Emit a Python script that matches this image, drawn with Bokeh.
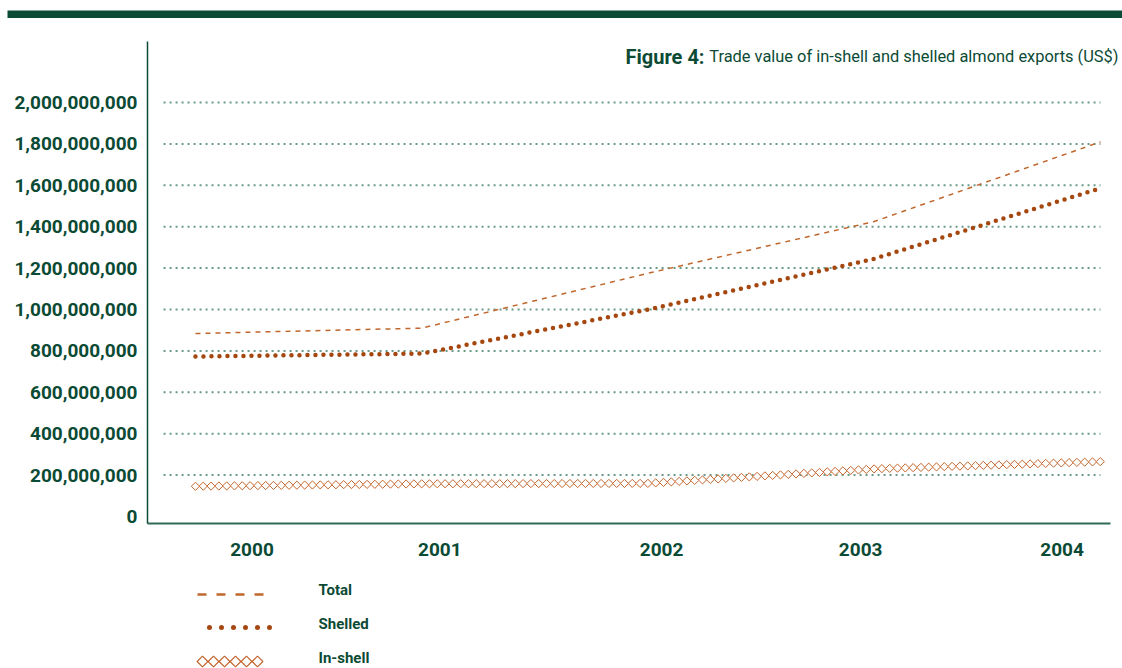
import numpy as np
from bokeh.plotting import figure
from bokeh.models import FixedTicker, NumeralTickFormatter, Range1d, Label
from bokeh.layouts import column
from bokeh.embed import file_html
from bokeh.resources import INLINE
from bokeh.core.properties import value

# ---------------- data ----------------
years = ["2000", "2001", "2002", "2003", "2004"]
total = [884e6, 910e6, 1175e6, 1425e6, 1810e6]
shelled = [773e6, 787e6, 1000e6, 1245e6, 1586e6]
inshell = [146e6, 158e6, 160e6, 230e6, 265e6]
y_ticks = [0, 200e6, 400e6, 600e6, 800e6, 1000e6, 1200e6, 1400e6, 1600e6, 1800e6, 2000e6]
legend_labels = ["Total", "Shelled", "In-shell"]
title_bold = "Figure 4:"
title_text = "Trade value of in-shell and shelled almond exports (US$)"

# ---------------- styles ----------------
GREEN = "#0b4a34"
GRID = "#6a9a88"
C_TOTAL = "#c0672c"
C_SHELLED = "#a5470f"
C_INSHELL = "#c4652c"
LABEL_FONT = "Roboto"

x_pos = list(range(len(years)))
year_label_pos = [0.25, 1.08, 2.06, 2.94, 3.83]
X_START, X_AXIS_END, X_END = -0.212, 4.044, 4.0972

# ---------------- top band ----------------
band = figure(width=1122, height=18, x_range=Range1d(0, 1122),
              y_range=Range1d(18, 0), output_backend="svg",
              toolbar_location=None, min_border=0)
band.frame_align = False
band.axis.visible = False
band.grid.visible = False
band.outline_line_color = None
band.quad(left=[7], right=[1122], top=[10], bottom=[17.5],
          fill_color=GREEN, line_color=None)

# ---------------- main chart ----------------
p = figure(width=1122, height=552,
           x_range=Range1d(X_START, X_END),
           y_range=Range1d(-3.38e7, 2.2947e9),
           output_backend="svg", toolbar_location=None,
           min_border_left=147, min_border_right=0,
           min_border_top=23, min_border_bottom=47)
p.frame_align = False
p.outline_line_color = None
p.grid.visible = False

# y axis
ya = p.yaxis[0]
ya.ticker = FixedTicker(ticks=y_ticks)
ya.formatter = NumeralTickFormatter(format="0,0")
ya.axis_line_color = GREEN
ya.axis_line_width = 1.5
ya.major_tick_line_color = None
ya.minor_tick_line_color = None
ya.major_tick_out = 0
ya.major_tick_in = 0
ya.major_label_standoff = 10
ya.major_label_text_font = LABEL_FONT
ya.major_label_text_font_size = "19px"
ya.major_label_text_font_style = "bold"
ya.major_label_text_color = GREEN

# x axis
xa = p.xaxis[0]
xa.ticker = FixedTicker(ticks=year_label_pos)
xa.major_label_overrides = {pos: yr for pos, yr in zip(year_label_pos, years)}
xa.bounds = (X_START, X_AXIS_END)
xa.axis_line_color = "#2f6b55"
xa.axis_line_width = 2
xa.major_tick_line_color = None
xa.minor_tick_line_color = None
xa.major_tick_out = 0
xa.major_tick_in = 0
xa.major_label_standoff = 19
xa.major_label_text_font = LABEL_FONT
xa.major_label_text_font_size = "19px"
xa.major_label_text_font_style = "bold"
xa.major_label_text_color = GREEN

# dotted gridlines (from tick values, excluding 0)
grid_vals = y_ticks[1:]
p.segment(x0=-0.141, x1=4.0, y0=grid_vals, y1=grid_vals,
          line_color=GRID, line_width=2, line_dash="2 4")

# series
p.line(x_pos, total, line_color=C_TOTAL, line_width=1.5, line_dash="5 5")
p.line(x_pos, shelled, line_color=C_SHELLED, line_width=4.5,
       line_dash="0 8", line_cap="round")
# in-shell drawn as a chain of diamonds along its line (line style)
step = 7.8 / 226.25
pattern_x = np.arange(0, 4 + 1e-9, step)
pattern_y = np.interp(pattern_x, x_pos, inshell)
p.scatter(pattern_x, pattern_y, marker="square", angle=np.pi / 4, size=5.8,
          line_color=C_INSHELL, fill_color="white", line_width=1)

# title (top right, inside the frame area)
p.add_layout(Label(x=971, y=467, x_units="screen", y_units="screen",
                   text=title_text, text_align="right",
                   text_baseline="alphabetic",
                   text_font="Roboto", text_font_size="16.4px",
                   text_color=GREEN))
p.add_layout(Label(x=557, y=467, x_units="screen", y_units="screen",
                   text=title_bold, text_align="right",
                   text_baseline="alphabetic",
                   text_font="Roboto", text_font_size="20px",
                   text_font_style="bold", text_color=GREEN))

# ---------------- legend strip ----------------
lg = figure(width=1122, height=98, x_range=Range1d(0, 1122),
            y_range=Range1d(668, 570), output_backend="svg",
            toolbar_location=None, min_border=0)
lg.frame_align = False
lg.axis.visible = False
lg.grid.visible = False
lg.outline_line_color = None

lg.line([197, 263], [594, 594], line_color=C_TOTAL, line_width=2.5,
        line_dash="9 10")
lg.line([209, 270], [627, 627], line_color=C_SHELLED, line_width=5,
        line_dash="0 12", line_cap="round")
key_x = np.linspace(202, 257, 6)
lg.scatter(key_x, [661] * 6, marker="square", angle=np.pi / 4, size=7.6,
           line_color=C_INSHELL, fill_color="white", line_width=1.2)
lg.text(x=[318] * 3, y=[589, 623.5, 657.5], text=legend_labels,
        text_font=value(LABEL_FONT), text_font_size="15px",
        text_font_style="bold", text_color=GREEN, text_baseline="middle")

layout = column(band, p, lg, spacing=0)
open("out.html", "w").write(file_html(layout, INLINE))
